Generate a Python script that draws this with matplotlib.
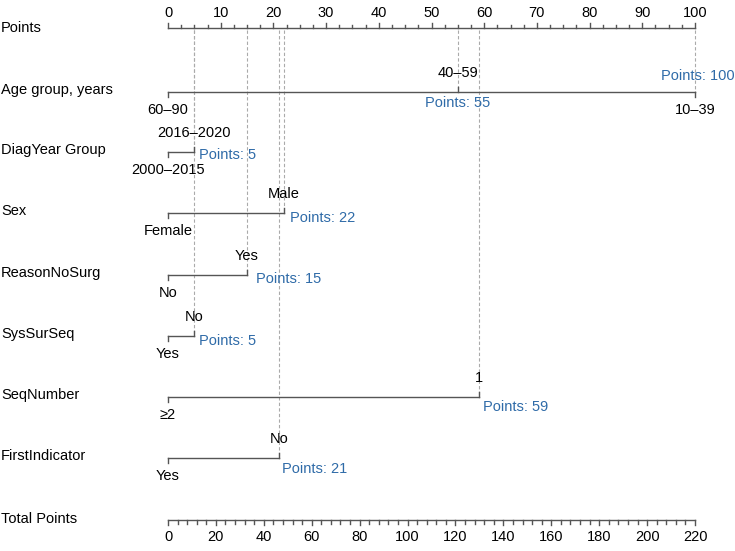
import matplotlib
matplotlib.use("Agg")
import matplotlib.pyplot as plt

plt.rcParams['font.family'] = ['Liberation Sans', 'DejaVu Sans']

# ---- data ----
variables = ["Age group, years", "DiagYear Group", "Sex", "ReasonNoSurg",
             "SysSurSeq", "SeqNumber", "FirstIndicator"]
age_levels = ["60–90", "40–59", "10–39"]
age_points = [0, 55, 100]
diag_levels = ["2000–2015", "2016–2020"]
diag_points = [0, 5]
sex_levels = ["Female", "Male"]
sex_points = [0, 22]
reason_levels = ["No", "Yes"]
reason_points = [0, 15]
syssur_levels = ["Yes", "No"]
syssur_points = [0, 5]
seqnum_levels = ["≥2", "1"]
seqnum_points = [0, 59]
first_levels = ["Yes", "No"]
first_points = [0, 21]

points_ticks = list(range(0, 101, 10))
total_ticks = list(range(0, 221, 20))
total_max = 220

# ---- layout ----
W, H = 735, 551
X0, X100 = 168, 695
ppu = (X100 - X0) / 100.0
fig = plt.figure(figsize=(W / 100, H / 100), dpi=100)
ax = fig.add_axes([0, 0, 1, 1])
ax.set_xlim(-X0 / ppu, (W - X0) / ppu)
ax.set_ylim(H, 0)
ax.axis('off')

def px(n):
    return n / ppu

line_c = '#555555'
blue = '#2f6ba8'
dash_c = '#aaaaaa'
fs = 10.5
lw = 1.0

label_x = px(1) - X0 / ppu

# Points axis
y_pts = 28
ax.text(label_x, y_pts, "Points", fontsize=fs, va='center', ha='left')
ax.plot([0, 100], [y_pts, y_pts], color=line_c, lw=lw)
for t in points_ticks:
    ax.plot([t, t], [y_pts, y_pts - 5], color=line_c, lw=lw)
    ax.text(t, 13, str(t), fontsize=fs, ha='center', va='center')
m = 0.0
while m <= 100:
    if abs(m / 10 - round(m / 10)) > 1e-6:
        ax.plot([m, m], [y_pts, y_pts - 3], color=line_c, lw=lw)
    m += 2.5

rows = [
    (age_levels, age_points, 92, ['below', 'above', 'below']),
    (diag_levels, diag_points, 152, ['below', 'above']),
    (sex_levels, sex_points, 213, ['below', 'above']),
    (reason_levels, reason_points, 275, ['below', 'above']),
    (syssur_levels, syssur_points, 336, ['below', 'above']),
    (seqnum_levels, seqnum_points, 397, ['below', 'above']),
    (first_levels, first_points, 458, ['below', 'above']),
]

# dashed guide lines
for levels, pts, y, pos in rows:
    for p in pts:
        if p > 0:
            ax.plot([p, p], [y_pts + 2, y], color=dash_c, lw=0.8,
                    ls=(0, (3, 2)), zorder=0)

for (levels, pts, y, pos), name in zip(rows, variables):
    ax.text(label_x, y - 2, name, fontsize=fs, va='center', ha='left')
    ax.plot([min(pts), max(pts)], [y, y], color=line_c, lw=lw)
    for lev, p, ps in zip(levels, pts, pos):
        if ps == 'above':
            ax.plot([p, p], [y, y - 5], color=line_c, lw=lw)
            ax.text(p, y - 19, lev, fontsize=fs, ha='center', va='center')
        else:
            ax.plot([p, p], [y, y + 5], color=line_c, lw=lw)
            ax.text(p, y + 18, lev, fontsize=fs, ha='center', va='center')

# "Points: n" annotations
ann = [
    (age_points[1], 92, 0, 11, 'center'),
    (age_points[2], 92, 3, -16, 'center'),
    (diag_points[1], 152, 5, 3, 'left'),
    (sex_points[1], 213, 6, 5, 'left'),
    (reason_points[1], 275, 9, 4, 'left'),
    (syssur_points[1], 336, 5, 5, 'left'),
    (seqnum_points[1], 397, 4, 10, 'left'),
    (first_points[1], 458, 3, 11, 'left'),
]
for p, y, dx, dy, ha in ann:
    ax.text(p + px(dx), y + dy, f"Points: {p}", fontsize=fs, color=blue,
            ha=ha, va='center')

# Total points axis
y_tot = 520
ax.text(label_x, y_tot - 1, "Total Points", fontsize=fs, va='center', ha='left')
ax.plot([0, 100], [y_tot, y_tot], color=line_c, lw=lw)
for t in range(0, total_max + 1, 4):
    x = t * 100 / total_max
    L = 5 if t % 20 == 0 else 4
    ax.plot([x, x], [y_tot, y_tot + L], color=line_c, lw=lw)
for t in total_ticks:
    x = t * 100 / total_max
    ax.text(x, 537, str(t), fontsize=fs, ha='center', va='center')

fig.savefig("out.png", dpi=100)
